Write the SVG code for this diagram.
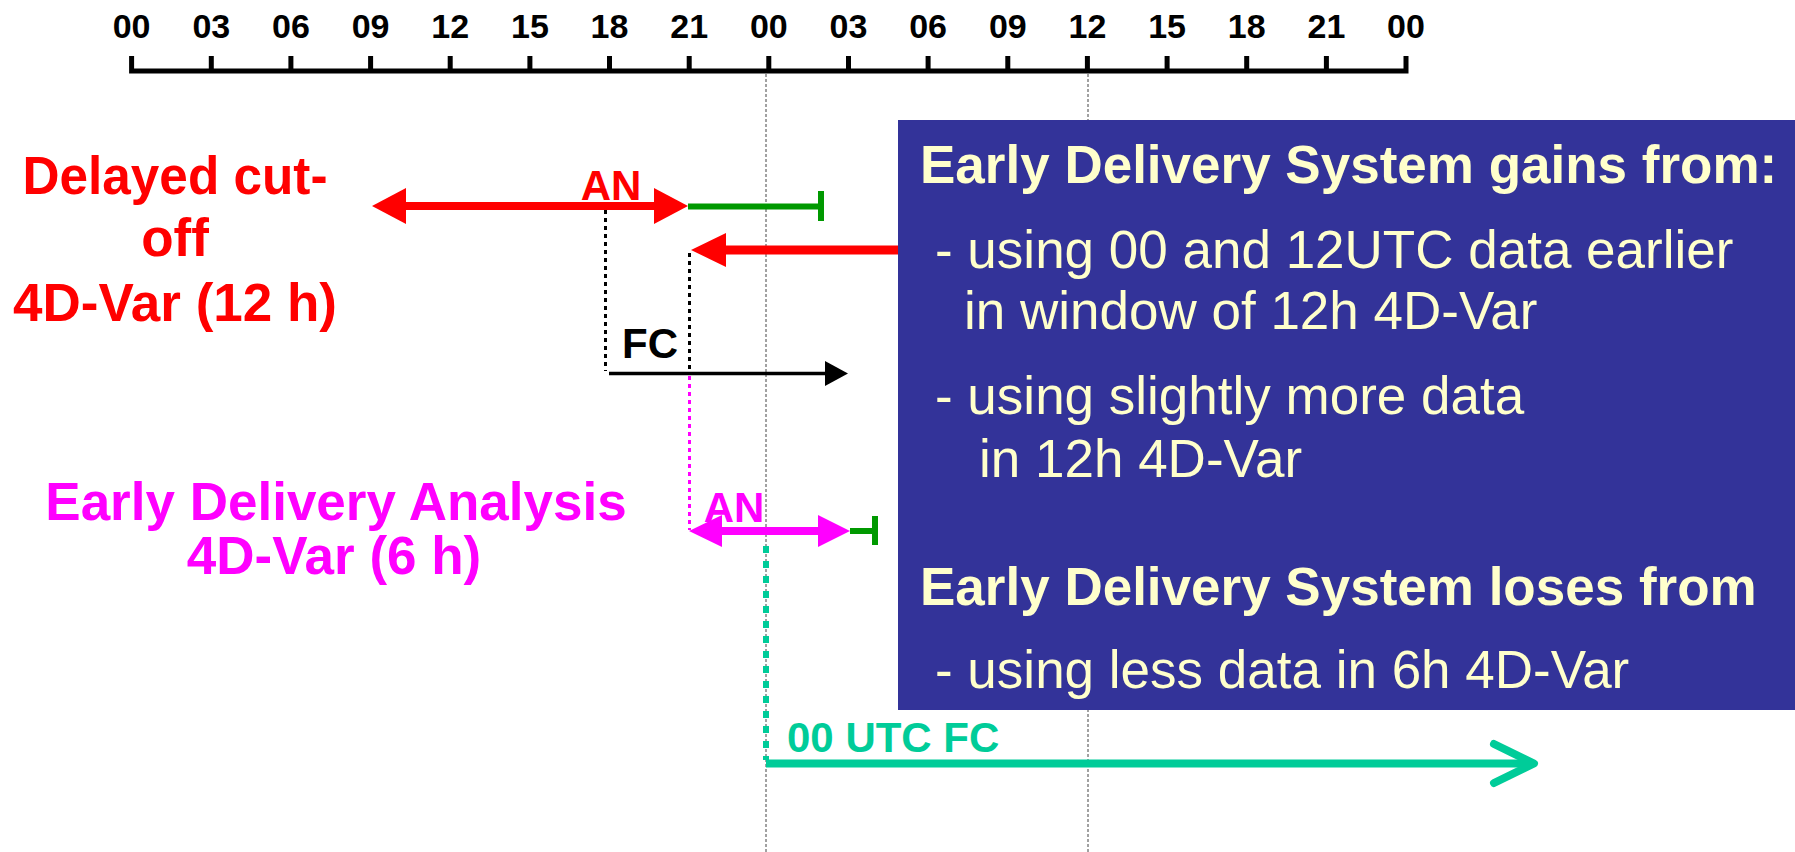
<svg xmlns="http://www.w3.org/2000/svg" width="1795" height="852" viewBox="0 0 1795 852">
<style>
.tick{font-family:"Liberation Sans",Arial,sans-serif;font-weight:bold;font-size:34px;fill:#000;text-anchor:middle}
.big{font-family:"Liberation Sans",Arial,sans-serif;font-weight:bold;font-size:53px;text-anchor:middle}
.lab{font-family:"Liberation Sans",Arial,sans-serif;font-weight:bold;font-size:42px}
.bh{font-family:"Liberation Sans",Arial,sans-serif;font-weight:bold;font-size:53px;fill:#FFFFCC}
.bt{font-family:"Liberation Sans",Arial,sans-serif;font-size:53px;fill:#FFFFCC}
.grid{stroke:#444;stroke-width:1;stroke-dasharray:3 2;fill:none}
</style>
<rect width="1795" height="852" fill="#fff"/>
<g id="axis">
<path d="M131.6 56V71H1406V56M211.3 56V71M290.9 56V71M370.6 56V71M450.2 56V71M529.9 56V71M609.5 56V71M689.2 56V71M768.8 56V71M848.5 56V71M928.1 56V71M1007.8 56V71M1087.4 56V71M1167.1 56V71M1246.7 56V71M1326.4 56V71" fill="none" stroke="#000" stroke-width="5"/>
<text class="tick" x="131.6" y="38">00</text>
<text class="tick" x="211.3" y="38">03</text>
<text class="tick" x="290.9" y="38">06</text>
<text class="tick" x="370.6" y="38">09</text>
<text class="tick" x="450.2" y="38">12</text>
<text class="tick" x="529.9" y="38">15</text>
<text class="tick" x="609.5" y="38">18</text>
<text class="tick" x="689.2" y="38">21</text>
<text class="tick" x="768.8" y="38">00</text>
<text class="tick" x="848.5" y="38">03</text>
<text class="tick" x="928.1" y="38">06</text>
<text class="tick" x="1007.8" y="38">09</text>
<text class="tick" x="1087.4" y="38">12</text>
<text class="tick" x="1167.1" y="38">15</text>
<text class="tick" x="1246.7" y="38">18</text>
<text class="tick" x="1326.4" y="38">21</text>
<text class="tick" x="1406" y="38">00</text>
</g>
<g id="gridlines">
<line class="grid" x1="766" y1="74" x2="766" y2="852"/>
<line class="grid" x1="1088" y1="74" x2="1088" y2="852"/>
</g>
<g id="label-delayed">
<text class="big" fill="#FF0000" x="175" y="194" textLength="305" lengthAdjust="spacingAndGlyphs">Delayed cut-</text>
<text class="big" fill="#FF0000" x="175" y="256">off</text>
<text class="big" fill="#FF0000" x="175" y="321">4D-Var (12 h)</text>
</g>
<g id="label-early">
<text class="big" fill="#FF00FF" x="336" y="520">Early Delivery Analysis</text>
<text class="big" fill="#FF00FF" x="334" y="574">4D-Var (6 h)</text>
</g>
<g id="connectors">
<line x1="400" y1="206" x2="660" y2="206" stroke="#FF0000" stroke-width="8"/>
<polygon points="372,206 406,188 406,224" fill="#FF0000"/>
<polygon points="688,206 654,188 654,224" fill="#FF0000"/>
<line x1="688" y1="206.5" x2="821" y2="206.5" stroke="#009900" stroke-width="6"/>
<line x1="821" y1="191" x2="821" y2="221" stroke="#009900" stroke-width="6"/>
<line x1="720" y1="250" x2="905" y2="250" stroke="#FF0000" stroke-width="9"/>
<polygon points="691,250 726,233 726,267" fill="#FF0000"/>
<line x1="605.5" y1="210" x2="605.5" y2="371" stroke="#000" stroke-width="3" stroke-dasharray="4 4"/>
<line x1="689.5" y1="253" x2="689.5" y2="371" stroke="#000" stroke-width="3" stroke-dasharray="4 4"/>
<line x1="689.5" y1="376" x2="689.5" y2="530" stroke="#FF00FF" stroke-width="3" stroke-dasharray="4 4"/>
<line x1="609" y1="373.5" x2="830" y2="373.5" stroke="#000" stroke-width="3.5"/>
<polygon points="848,373.5 825,361 825,386" fill="#000"/>
<line x1="715" y1="531" x2="825" y2="531" stroke="#FF00FF" stroke-width="8"/>
<polygon points="689,531 722,515 722,547" fill="#FF00FF"/>
<polygon points="850,531 818,515 818,547" fill="#FF00FF"/>
<line x1="850" y1="531" x2="875" y2="531" stroke="#009900" stroke-width="6"/>
<line x1="875" y1="516" x2="875" y2="545" stroke="#009900" stroke-width="6"/>
<line x1="766" y1="546" x2="766" y2="760" stroke="#00CC99" stroke-width="6" stroke-dasharray="7 8"/>
<line x1="766" y1="763.5" x2="1530" y2="763.5" stroke="#00CC99" stroke-width="8"/>
<polyline points="1494,744 1534,763.5 1494,783" fill="none" stroke="#00CC99" stroke-width="8" stroke-linecap="round" stroke-linejoin="round"/>
</g>
<g id="labels">
<text class="lab" fill="#FF0000" x="611" y="200" text-anchor="middle">AN</text>
<text class="lab" fill="#000" x="650" y="358" text-anchor="middle">FC</text>
<text class="lab" fill="#FF00FF" x="734" y="522" text-anchor="middle">AN</text>
<text class="lab" fill="#00CC99" x="787" y="752">00 UTC FC</text>
</g>
<g id="box">
<rect x="898" y="120" width="897" height="590" fill="#333399"/>
<text class="bh" x="920" y="183">Early Delivery System gains from:</text>
<text class="bt" x="935" y="268">- using 00 and 12UTC data earlier</text>
<text class="bt" x="964" y="329">in window of 12h 4D-Var</text>
<text class="bt" x="935" y="414">- using slightly more data</text>
<text class="bt" x="979" y="477">in 12h 4D-Var</text>
<text class="bh" x="920" y="605">Early Delivery System loses from</text>
<text class="bt" x="935" y="688">- using less data in 6h 4D-Var</text>
</g>
</svg>
